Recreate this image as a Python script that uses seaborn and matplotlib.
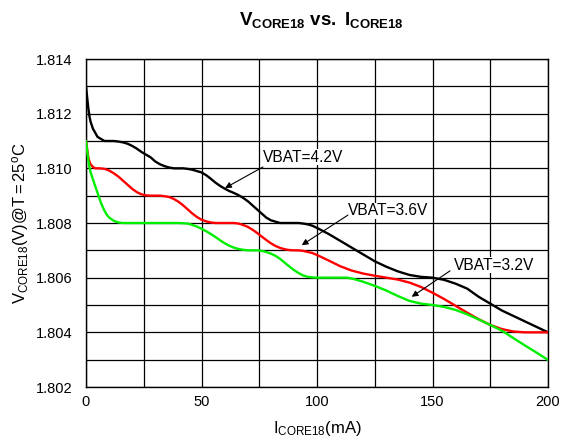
import numpy as np
import pandas as pd
import matplotlib
matplotlib.use("Agg")
import matplotlib.pyplot as plt
import seaborn as sns

# ---- data ----
x_42 = [0, 0.5, 1, 1.5, 2, 3, 4, 5, 6, 8, 10, 12, 14, 16, 18, 20, 22, 24, 26, 28, 30, 32, 34, 36,
        38, 40, 42, 44, 46, 48, 50, 52, 54, 56, 58, 60, 62, 64, 66, 68, 70, 72, 74, 76, 78, 80,
        82, 84, 86, 88, 90, 92, 94, 96, 98, 100, 105, 110, 115, 120, 125, 130, 135, 140, 145,
        150, 155, 160, 165, 170, 175, 180, 185, 190, 195, 200]
y_42 = [1.8130, 1.8126, 1.8122, 1.8119, 1.8117, 1.81145, 1.8113, 1.81115, 1.8111, 1.8110,
        1.8110, 1.8110, 1.81098, 1.81095, 1.8109, 1.81082, 1.81072, 1.8106, 1.8105, 1.8104,
        1.81025, 1.81015, 1.81008, 1.81003, 1.8100, 1.8100, 1.8100, 1.80998, 1.80995, 1.8099,
        1.80985, 1.80975, 1.80962, 1.80948, 1.80936, 1.80926, 1.80917, 1.8091, 1.80902, 1.80892,
        1.8088, 1.80865, 1.8085, 1.80835, 1.8082, 1.8081, 1.80805, 1.8080, 1.8080, 1.8080,
        1.8080, 1.8080, 1.80798, 1.80795, 1.8079, 1.80782, 1.8076, 1.80735, 1.8071, 1.80685,
        1.8066, 1.8064, 1.80623, 1.8061, 1.80603, 1.8060, 1.80592, 1.80578, 1.8056, 1.8053,
        1.80505, 1.8048, 1.8046, 1.8044, 1.8042, 1.8040]

x_36 = [0, 0.5, 1, 1.5, 2, 3, 4, 6, 8, 10, 12, 14, 16, 18, 20, 22, 24, 26, 28, 30, 32, 34, 36,
        38, 40, 42, 44, 46, 48, 50, 52, 54, 56, 58, 60, 62, 64, 66, 68, 70, 72, 74, 76, 78, 80,
        82, 84, 86, 88, 90, 92, 94, 96, 98, 100, 105, 110, 115, 120, 125, 130, 135, 140, 145,
        150, 155, 160, 165, 170, 175, 180, 185, 190, 195, 200]
y_36 = [1.8110, 1.8107, 1.8104, 1.81025, 1.81015, 1.81005, 1.8100, 1.8100, 1.80998, 1.80992,
        1.80982, 1.8097, 1.80955, 1.8094, 1.80925, 1.80913, 1.80905, 1.80901, 1.8090, 1.8090,
        1.8090, 1.80898, 1.80895, 1.80888, 1.80878, 1.80865, 1.8085, 1.80835, 1.80822, 1.80812,
        1.80806, 1.80802, 1.8080, 1.8080, 1.8080, 1.8080, 1.8080, 1.80798, 1.80793, 1.80786,
        1.80776, 1.80764, 1.80751, 1.80738, 1.80726, 1.80716, 1.80709, 1.80704, 1.80701, 1.8070,
        1.8070, 1.80698, 1.80694, 1.8069, 1.80683, 1.80663, 1.80642, 1.80626, 1.80615, 1.80607,
        1.8060, 1.80593, 1.80582, 1.80566, 1.80545, 1.80522, 1.80497, 1.80472, 1.80448, 1.80427,
        1.80412, 1.80403, 1.8040, 1.8040, 1.8040]

x_32 = [0, 0.5, 1, 1.5, 2, 3, 4, 5, 6, 7, 8, 9, 10, 12, 14, 16, 20, 30, 40, 44, 46, 48, 50, 52,
        54, 56, 58, 60, 62, 64, 66, 68, 70, 72, 74, 76, 78, 80, 82, 84, 86, 88, 90, 92, 94, 96,
        98, 100, 105, 110, 113, 116, 120, 125, 130, 135, 140, 145, 150, 155, 160, 165, 170, 175,
        180, 185, 190, 195, 200]
y_32 = [1.8110, 1.81065, 1.8103, 1.81005, 1.80985, 1.8096, 1.80935, 1.8091, 1.80885, 1.80863,
        1.80845, 1.8083, 1.8082, 1.80808, 1.80802, 1.8080, 1.8080, 1.8080, 1.8080, 1.80798,
        1.80793, 1.80787, 1.80779, 1.8077, 1.8076, 1.80749, 1.80737, 1.80726, 1.80717, 1.8071,
        1.80705, 1.80702, 1.8070, 1.8070, 1.8070, 1.80698, 1.80694, 1.80688, 1.8068, 1.80669,
        1.80655, 1.80641, 1.80628, 1.80617, 1.80608, 1.80603, 1.80601, 1.8060, 1.8060, 1.8060,
        1.8060, 1.80595, 1.80585, 1.8057, 1.80553, 1.80533, 1.80515, 1.80505, 1.8050, 1.80493,
        1.80482, 1.80466, 1.80447, 1.80427, 1.80406, 1.80379, 1.80352, 1.80326, 1.80299]

labels = ["VBAT=4.2V", "VBAT=3.6V", "VBAT=3.2V"]
colors = ["#000000", "#ff0000", "#00ee00"]

x_ticks = [0, 50, 100, 150, 200]
y_ticks = [1.802, 1.804, 1.806, 1.808, 1.810, 1.812, 1.814]

# annotation: text anchor (x, y) and arrow start/end in data coordinates
ann_text = [(76.6, 1.81041), (113.4, 1.80844), (159.3, 1.80646)]
ann_start = [(76.6, 1.81005), (113.4, 1.80829), (157.6, 1.80625)]
ann_end = [(60.2, 1.80928), (93.4, 1.80719), (141.0, 1.80530)]

frames = []
for lab, xs, ys in zip(labels, [x_42, x_36, x_32], [y_42, y_36, y_32]):
    frames.append(pd.DataFrame({"I": xs, "V": ys, "series": lab}))
df = pd.concat(frames, ignore_index=True)

sns.set_theme(style="white")
plt.rcParams["font.family"] = ["Liberation Sans", "DejaVu Sans"]
plt.rcParams["mathtext.fontset"] = "custom"
plt.rcParams["mathtext.rm"] = "Liberation Sans"
plt.rcParams["mathtext.it"] = "Liberation Sans"
plt.rcParams["mathtext.bf"] = "Liberation Sans:bold"

fig = plt.figure(figsize=(5.63, 4.42), dpi=100)
ax = fig.add_axes([86 / 563, 1 - 387 / 442, 462 / 563, 328 / 442])

sns.lineplot(data=df, x="I", y="V", hue="series", palette=colors, hue_order=labels,
             linewidth=1.7, legend=False, ax=ax, sort=True, zorder=3)
for ln in ax.get_lines():
    ln.set_solid_joinstyle("round")

ax.set_xlim(0, 200)
ax.set_ylim(1.802, 1.814)
ax.set_xticks(np.arange(0, 201, 25), minor=True)
ax.set_yticks(np.arange(1.802, 1.8141, 0.001), minor=True)
ax.set_xticks(x_ticks)
ax.set_xticklabels([str(v) for v in x_ticks], fontsize=10.5)
ax.set_yticks(y_ticks)
ax.set_yticklabels([f"{v:.3f}" for v in y_ticks], fontsize=10.5)
ax.grid(True, which="both", color="black", linewidth=0.9)
ax.tick_params(axis="x", which="both", length=0, pad=6, colors="black")
ax.tick_params(axis="y", which="both", length=0, pad=10, colors="black")
for s in ax.spines.values():
    s.set_color("black")
    s.set_linewidth(1.0)

ax.set_xlabel(r"$\mathrm{I_{CORE18}(mA)}$", fontsize=12, labelpad=7, color="black")
ax.set_ylabel(r"$\mathrm{V_{CORE18}(V)@T=25^{o}C}$", fontsize=12, labelpad=3, color="black")
fig.text(0.57, 0.955, r"$\mathbf{V_{CORE18}\ vs.\ I_{CORE18}}$",
         ha="center", va="center", fontsize=13.5, color="black")

for lab, (tx, ty), st, en in zip(labels, ann_text, ann_start, ann_end):
    ax.text(tx, ty, lab, ha="left", va="center", fontsize=11.2, color="black", zorder=5,
            bbox=dict(facecolor="white", edgecolor="none", pad=0.5))
    ax.annotate("", xy=en, xytext=st,
                arrowprops=dict(arrowstyle="-|>", color="black", lw=0.8,
                                mutation_scale=9, shrinkA=0, shrinkB=0), zorder=5)

fig.savefig("out.png", dpi=100)
